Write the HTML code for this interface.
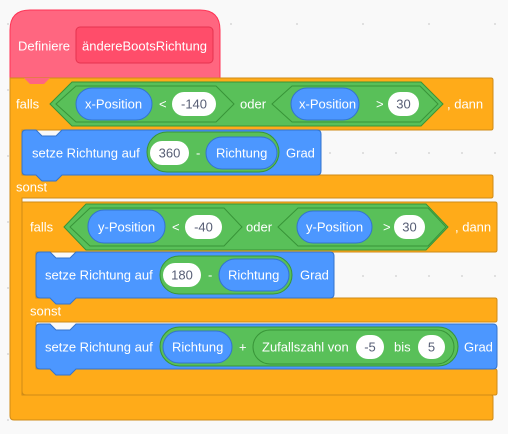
<!DOCTYPE html>
<html><head><meta charset="utf-8"><style>
html,body{margin:0;padding:0;background:#f9f9f9;}
svg{display:block;}
text{font-family:"Liberation Sans",sans-serif;font-size:13px;fill:#fff;dominant-baseline:central;}
.d{fill:#575e75;text-anchor:middle;}
</style></head><body>
<svg width="508" height="434" viewBox="0 0 508 434" xmlns="http://www.w3.org/2000/svg">
<g fill="#d9d9d9">
<circle cx="8" cy="24" r="1"/><circle cx="8" cy="90" r="1"/><circle cx="8" cy="156" r="1"/><circle cx="8" cy="222" r="1"/><circle cx="8" cy="288" r="1"/><circle cx="8" cy="354" r="1"/><circle cx="8" cy="420" r="1"/>
<circle cx="231" cy="24" r="1"/><circle cx="297" cy="24" r="1"/><circle cx="363" cy="24" r="1"/><circle cx="429" cy="24" r="1"/><circle cx="495" cy="24" r="1"/>
<circle cx="330" cy="153" r="1"/><circle cx="363" cy="153" r="1"/><circle cx="396" cy="153" r="1"/><circle cx="429" cy="153" r="1"/><circle cx="462" cy="153" r="1"/><circle cx="495" cy="153" r="1"/>
<circle cx="363" cy="276" r="1"/><circle cx="396" cy="276" r="1"/><circle cx="429" cy="276" r="1"/><circle cx="462" cy="276" r="1"/><circle cx="495" cy="276" r="1"/>
</g>
<!-- hat -->
<path d="M10,30 Q10,10 30,10 L200,10 Q220,10 220,30 L220,78 L10,78 Z" fill="#ff6680" stroke="#ff3355" stroke-width="1"/>
<rect x="76" y="27" width="137" height="36" rx="4" fill="#ff4d6a" stroke="#e6334f"/>
<text x="18" y="46">Definiere</text>
<text x="82" y="46">ändereBootsRichtung</text>
<!-- outer if-else -->
<path d="M10,78 L491,78 Q493,78 493,80 L493,128 Q493,130 491,130 L22,130 L22,175 L491,175 Q493,175 493,177 L493,196 Q493,198 491,198 L22,198 L22,395 L491,395 Q493,395 493,397 L493,418 Q493,420 491,420 L14,420 Q10,420 10,416 Z" fill="#ffab19" stroke="#cf8b17"/>
<path d="M24,78 L30,84 L44,84 L50,78 Z" fill="#ff6680"/>
<!-- inner if-else -->
<path d="M22,202 L495,202 Q497,202 497,204 L497,250 Q497,252 495,252 L36,252 L36,298 L495,298 Q497,298 497,300 L497,320 Q497,322 495,322 L36,322 L36,369 L495,369 Q497,369 497,371 L497,393 Q497,395 495,395 L26,395 Q22,395 22,391 Z" fill="#ffab19" stroke="#cf8b17"/>
<text x="16" y="104">falls</text>
<text x="447" y="104">, dann</text>
<text x="16" y="187">sonst</text>
<text x="30" y="227">falls</text>
<text x="455" y="227">, dann</text>
<text x="30" y="311">sonst</text>
<!-- outer condition -->
<polygon points="50,104 72,82 421,82 443,104 421,126 72,126" fill="#59c059" stroke="#389438"/>
<polygon points="56,104 76,86 216,86 234,104 216,122 76,122" fill="#59c059" stroke="#389438"/>
<rect x="76" y="88" width="76" height="32" rx="16" fill="#4c97ff" stroke="#3373cc"/>
<text x="85" y="104">x-Position</text>
<text x="159" y="104">&lt;</text>
<rect x="172" y="92" width="44" height="24" rx="12" fill="#fff"/>
<text class="d" x="194" y="104">-140</text>
<text x="240" y="104">oder</text>
<polygon points="272,104 292,86 420,86 438,104 420,122 292,122" fill="#59c059" stroke="#389438"/>
<rect x="291" y="88" width="68" height="32" rx="16" fill="#4c97ff" stroke="#3373cc"/>
<text x="299" y="104">x-Position</text>
<text x="376" y="104">&gt;</text>
<rect x="388" y="92" width="31" height="24" rx="12" fill="#fff"/>
<text class="d" x="403.5" y="104">30</text>
<!-- setze 1 -->
<path d="M22,134 Q22,130 26,130 L36,130 L42,136 L56,136 L62,130 L317,130 Q321,130 321,134 L321,171 Q321,175 317,175 L62,175 L56,181 L42,181 L36,175 L26,175 Q22,175 22,171 Z" fill="#4c97ff" stroke="#3373cc"/>
<text x="32" y="153">setze Richtung auf</text>
<rect x="147" y="132" width="132" height="40" rx="20" fill="#59c059" stroke="#389438"/>
<rect x="150" y="141" width="39" height="24" rx="12" fill="#fff"/>
<text class="d" x="169.5" y="153">360</text>
<text x="196" y="153">-</text>
<rect x="206" y="137" width="71" height="32" rx="16" fill="#4c97ff" stroke="#3373cc"/>
<text x="216" y="153">Richtung</text>
<text x="286" y="153">Grad</text>
<!-- inner condition -->
<polygon points="64,227 86,204 426,204 448,227 426,250 86,250" fill="#59c059" stroke="#389438"/>
<polygon points="70,227 90,208 224,208 242,227 224,246 90,246" fill="#59c059" stroke="#389438"/>
<rect x="88" y="210" width="77" height="33" rx="16" fill="#4c97ff" stroke="#3373cc"/>
<text x="98" y="227">y-Position</text>
<text x="172" y="227">&lt;</text>
<rect x="185" y="215" width="37" height="24" rx="12" fill="#fff"/>
<text class="d" x="203.5" y="227">-40</text>
<text x="246" y="227">oder</text>
<polygon points="278,227 298,208 428,208 446,227 428,246 298,246" fill="#59c059" stroke="#389438"/>
<rect x="297" y="211" width="75" height="32" rx="16" fill="#4c97ff" stroke="#3373cc"/>
<text x="306" y="227">y-Position</text>
<text x="383" y="227">&gt;</text>
<rect x="394" y="215" width="31" height="24" rx="12" fill="#fff"/>
<text class="d" x="409.5" y="227">30</text>
<!-- setze 2 -->
<path d="M36,256 Q36,252 40,252 L50,252 L56,258 L70,258 L76,252 L330,252 Q334,252 334,256 L334,294 Q334,298 330,298 L76,298 L70,304 L56,304 L50,298 L40,298 Q36,298 36,294 Z" fill="#4c97ff" stroke="#3373cc"/>
<text x="45" y="275">setze Richtung auf</text>
<rect x="160" y="256" width="132" height="38" rx="19" fill="#59c059" stroke="#389438"/>
<rect x="163" y="263" width="38" height="24" rx="12" fill="#fff"/>
<text class="d" x="182" y="275">180</text>
<text x="208" y="275">-</text>
<rect x="219" y="259" width="70" height="32" rx="16" fill="#4c97ff" stroke="#3373cc"/>
<text x="228" y="275">Richtung</text>
<text x="300" y="275">Grad</text>
<!-- setze 3 -->
<path d="M36,328 Q36,324 40,324 L50,324 L56,330 L70,330 L76,324 L493,324 Q497,324 497,328 L497,365 Q497,369 493,369 L76,369 L70,375 L56,375 L50,369 L40,369 Q36,369 36,365 Z" fill="#4c97ff" stroke="#3373cc"/>
<text x="45" y="347">setze Richtung auf</text>
<rect x="160" y="327" width="298" height="39" rx="19.5" fill="#59c059" stroke="#389438"/>
<rect x="163" y="331" width="69" height="32" rx="16" fill="#4c97ff" stroke="#3373cc"/>
<text x="172" y="347">Richtung</text>
<text x="239" y="347">+</text>
<rect x="253" y="330" width="201" height="34" rx="17" fill="#59c059" stroke="#389438"/>
<text x="262" y="347">Zufallszahl von</text>
<rect x="356" y="335" width="28" height="24" rx="12" fill="#fff"/>
<text class="d" x="370" y="347">-5</text>
<text x="394" y="347">bis</text>
<rect x="418" y="335" width="27" height="24" rx="12" fill="#fff"/>
<text class="d" x="431.5" y="347">5</text>
<text x="464" y="347">Grad</text>
</svg>
</body></html>
